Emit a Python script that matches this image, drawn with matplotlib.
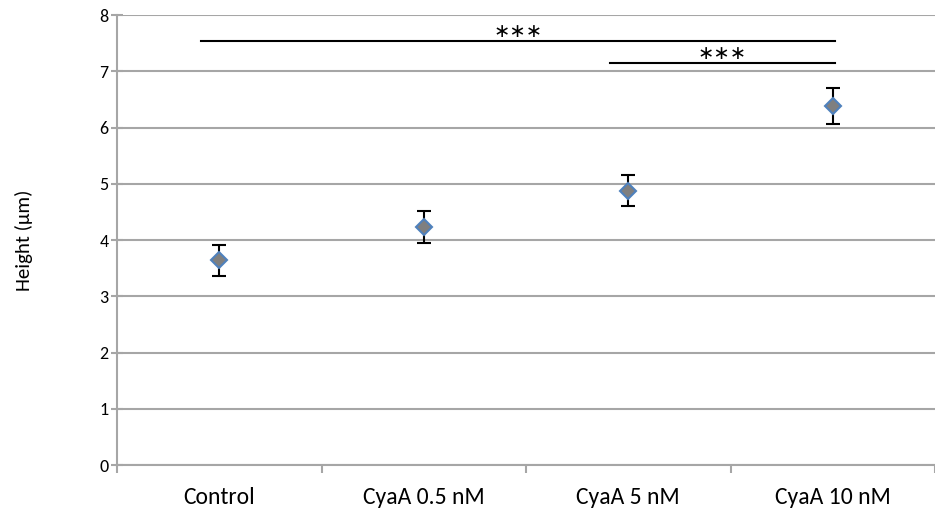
import numpy as np
import matplotlib
matplotlib.use("Agg")
import matplotlib.pyplot as plt

plt.rcParams["font.family"] = ["Carlito", "Lato", "DejaVu Sans"]

categories = ["Control", "CyaA 0.5 nM", "CyaA 5 nM", "CyaA 10 nM"]
heights = [3.64, 4.23, 4.88, 6.39]
errors = [0.28, 0.29, 0.27, 0.32]

# significance brackets: (start category, end category, y level, label)
sig_brackets = [(0, 3, 7.54, "\u2217\u2217\u2217"), (2, 3, 7.14, "\u2217\u2217\u2217")]

GRID = "#a6a6a6"

fig = plt.figure(figsize=(9.35, 5.11), dpi=100)
ax = fig.add_axes([117 / 935, 46 / 511, 818 / 935, 450 / 511])

x = np.arange(len(categories))
ax.errorbar(x, heights, yerr=errors, fmt="none", ecolor="black", elinewidth=1.5,
            capsize=5, capthick=1.5, zorder=3)
ax.plot(x, heights, ls="none", marker="D", ms=8, mfc="#7f7f7f", mec="#4f81bd",
        mew=1.5, zorder=4)

for i0, i1, yv, lab in sig_brackets:
    ax.plot([i0 - 0.09, i1 + 0.01], [yv, yv], color="black", lw=1.5, zorder=3)
    ax.text((i0 - 0.09 + i1 + 0.01) / 2, yv + 0.0, lab, ha="center", va="bottom",
            fontsize=14, family="DejaVu Sans")

ax.set_ylim(0, 8)
ax.set_xlim(-0.5, 3.442)
ax.set_yticks(range(9))
ax.yaxis.grid(True, color=GRID, lw=1.5)
ax.set_axisbelow(True)

ax.set_xticks(x)
ax.set_xticklabels(categories, fontsize=17)
ax.set_xticks(np.arange(-0.5, 3.6, 1), minor=True)
ax.tick_params(axis="x", which="major", length=0, pad=16)
ax.tick_params(axis="x", which="minor", length=6, width=1.5, color=GRID)
ax.tick_params(axis="y", length=8, width=1.5, direction="inout", color=GRID,
               labelsize=13, pad=2)

for s in ["top", "right"]:
    ax.spines[s].set_visible(False)
for s in ["left", "bottom"]:
    ax.spines[s].set_color(GRID)
    ax.spines[s].set_linewidth(1.5)

ax.set_ylabel("Height (µm)", fontsize=15, labelpad=48)

fig.savefig("out.png", dpi=100, facecolor="white")
